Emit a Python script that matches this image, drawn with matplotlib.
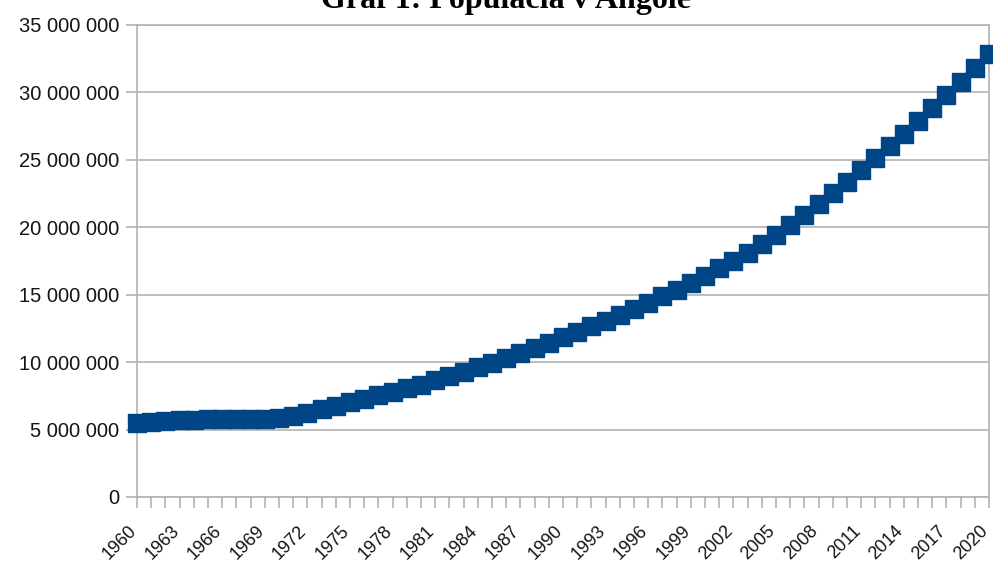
import matplotlib
matplotlib.use("Agg")
import matplotlib.pyplot as plt
from matplotlib.ticker import FuncFormatter

years = list(range(1960, 2021))
population = [
    5454938, 5531451, 5608499, 5679409, 5734995, 5770573, 5781305, 5774440,
    5771973, 5803677, 5890360, 6040046, 6248643, 6496580, 6761763, 7024000,
    7279509, 7533735, 7790707, 8058067, 8341289, 8640446, 8952950, 9278096,
    9614754, 9961997, 10320111, 10689250, 11068050, 11454777, 11848386,
    12248901, 12657366, 13075049, 13503747, 13945206, 14400719, 14871570,
    15359601, 15866869, 16395473, 16945753, 17519417, 18121479, 18758145,
    19433602, 20149901, 20905363, 21695634, 22514281, 23356246, 24220661,
    25107931, 26015780, 26941779, 27884381, 28842484, 29816748, 30809762,
    31825295, 32866272,
]
title = "Graf 1: Populácia v Angole"
y_ticks = [0, 5000000, 10000000, 15000000, 20000000, 25000000, 30000000, 35000000]
label_years = list(range(1960, 2021, 3))

W, H = 993, 563
fig = plt.figure(figsize=(W / 100, H / 100), dpi=100)
ax = fig.add_axes([137 / W, (H - 497) / H, 852 / W, 472 / H])

grid_c = "#b3b3b3"
ax.set_xlim(1960, 2020)
ax.set_ylim(0, 35000000)
ax.set_yticks(y_ticks)
ax.yaxis.set_major_formatter(FuncFormatter(lambda v, p: f"{int(v):,}".replace(",", " ")))
ax.grid(axis="y", color=grid_c, linewidth=1.2)
ax.set_axisbelow(True)

ax.plot(years, population, color="#004586", marker="s", markersize=12.5,
        linestyle="-", linewidth=4, clip_on=False, zorder=3)

ax.set_xticks(years)
ax.set_xticklabels([str(y) if y in label_years else "" for y in years])

for s in ["left", "bottom", "right", "top"]:
    ax.spines[s].set_color(grid_c)
    ax.spines[s].set_linewidth(1.2)
ax.tick_params(axis="both", color=grid_c, width=1.2, length=8,
               labelcolor="#141414")
ax.tick_params(axis="y", pad=5, labelsize=14.5)
ax.tick_params(axis="x", pad=17, labelsize=13)
for lab in ax.get_xticklabels():
    lab.set_rotation(45)
    lab.set_ha("right")
    lab.set_va("baseline")
    lab.set_rotation_mode("anchor")
for lab in ax.get_xticklabels() + ax.get_yticklabels():
    lab.set_fontfamily("Liberation Sans")

fig.text(506 / W, 1 - 8 / H, title, ha="center", va="baseline",
         fontsize=23, fontweight="bold", fontfamily="Liberation Serif")

fig.savefig("out.png", dpi=100, facecolor="white")
